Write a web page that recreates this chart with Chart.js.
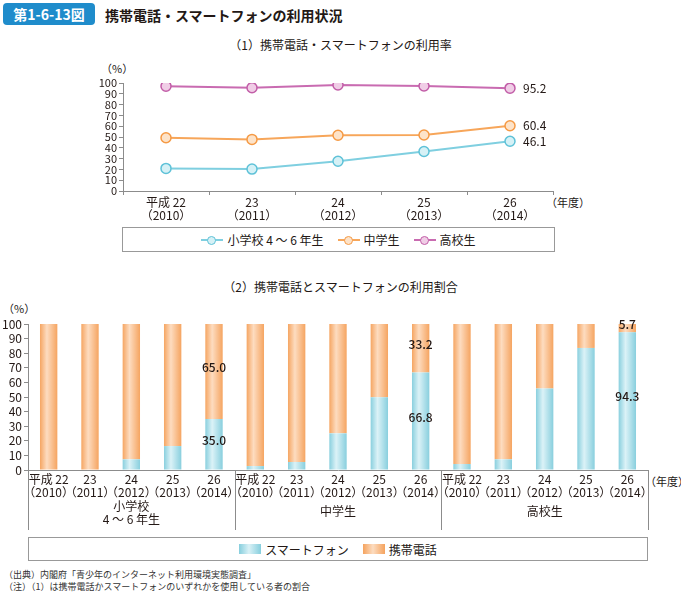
<!DOCTYPE html>
<html lang="ja">
<head>
<meta charset="utf-8">
<script src="https://cdn.jsdelivr.net/npm/chart.js@4"></script>
<style>
body{margin:0;width:681px;height:593px;position:relative;background:#fff;overflow:hidden;
  font-family:"Noto Sans CJK JP","Noto Sans",sans-serif;color:#231815}
.abs{position:absolute;white-space:nowrap}
#badge{left:3px;top:3px;width:92px;height:22px;border-radius:4px;background:#1f8ccb;color:#fff;
  font-size:14px;font-weight:bold;line-height:22px;text-align:center}
#title{left:105px;top:5px;font-size:14px;font-weight:bold;line-height:20px}
.sub{font-size:12px;line-height:16px;left:0;width:681px;text-align:center}
.small{font-size:11px;line-height:14px}
.legend{border:1px solid #999;display:flex;justify-content:center;align-items:center;font-size:12px;box-sizing:border-box}
.legend span.item{display:flex;align-items:center;margin:0 7px}
.ln{position:relative;width:22px;height:10px;margin-right:4px}
.ln i{position:absolute;left:0;right:0;top:4px;height:2px}
.ln b{position:absolute;left:6px;top:1px;width:7px;height:7px;border-radius:50%;border:1px solid;background:#fff}
.sq{width:22px;height:10px;margin-right:4px}
.note{left:4px;font-size:9px;line-height:12px;color:#333}
canvas{position:absolute}
</style>
</head>
<body>
<div id="badge" class="abs">第1-6-13図</div>
<div id="title" class="abs">携帯電話・スマートフォンの利用状況</div>
<div class="abs sub" style="top:37px">（1）携帯電話・スマートフォンの利用率</div>
<div class="abs small" style="left:101px;top:61px">（%）</div>
<div class="abs small" style="left:546px;top:195px">（年度）</div>
<canvas id="rate" width="520" height="165" style="left:80px;top:60px"></canvas>
<div class="abs legend" style="left:122px;top:227px;width:433px;height:25px">
  <span class="item"><span class="ln"><i style="background:#7fcfe0"></i><b style="border-color:#5fc2d8;background:#d6f1f6"></b></span>小学校 4 ～ 6 年生</span>
  <span class="item"><span class="ln"><i style="background:#f7a65a"></i><b style="border-color:#f59a45;background:#fde3c9"></b></span>中学生</span>
  <span class="item"><span class="ln"><i style="background:#c96bb1"></i><b style="border-color:#c25ea8;background:#f0cde6"></b></span>高校生</span>
</div>

<div class="abs sub" style="top:279px">（2）携帯電話とスマートフォンの利用割合</div>
<div class="abs small" style="left:3px;top:301px">（%）</div>
<div class="abs small" style="left:645px;top:474px">（年度）</div>
<canvas id="share" width="681" height="240" style="left:0;top:295px"></canvas>
<div class="abs legend" style="left:28px;top:537px;width:620px;height:24px">
  <span class="item"><span class="sq" style="background:linear-gradient(90deg,#86cedd,#d9f1f6 45%,#86cedd)"></span>スマートフォン</span>
  <span class="item"><span class="sq" style="background:linear-gradient(90deg,#f5a35e,#fcdcc0 45%,#f5a35e)"></span>携帯電話</span>
</div>
<div class="abs note" style="top:569px">（出典）内閣府「青少年のインターネット利用環境実態調査」</div>
<div class="abs note" style="top:581px">（注）（1）は携帯電話かスマートフォンのいずれかを使用している者の割合</div>

<script>
const years = [["平成 22", "（2010）"], ["23", "（2011）"], ["24", "（2012）"], ["25", "（2013）"], ["26", "（2014）"]];

// (1) 利用率
const rateElem = [20.9, 20.3, 27.5, 36.6, 46.1];
const rateJunior = [49.3, 47.8, 51.6, 51.9, 60.4];
const rateHigh = [97.1, 95.6, 98.1, 97.2, 95.2];

// (2) 利用割合
const groups = [["小学校", "4 ～ 6 年生"], ["中学生"], ["高校生"]];
const smartElem = [0, 0, 7.3, 16.4, 35.0];
const phoneElem = [100, 100, 92.7, 83.6, 65.0];
const smartJunior = [2.7, 5.5, 25.1, 49.8, 66.8];
const phoneJunior = [97.3, 94.5, 74.9, 50.2, 33.2];
const smartHigh = [4.1, 7.3, 55.9, 83.6, 94.3];
const phoneHigh = [95.9, 92.7, 44.1, 16.4, 5.7];

const FONT = '"Noto Sans CJK JP", "Noto Sans", sans-serif';
Chart.defaults.font.family = FONT;
Chart.defaults.color = "#231815";

const axisColor = "#8c8c8c";

// 最終年の値ラベル
const endLabels = {
  id: "endLabels",
  afterDatasetsDraw(chart) {
    const ctx = chart.ctx;
    ctx.save();
    ctx.font = "12px " + FONT;
    ctx.fillStyle = "#231815";
    ctx.textBaseline = "middle";
    chart.data.datasets.forEach((ds, i) => {
      const pts = chart.getDatasetMeta(i).data;
      const last = pts[pts.length - 1];
      ctx.fillText(ds.data[ds.data.length - 1].toFixed(1), last.x + 13, last.y);
    });
    ctx.restore();
  },
};

function lineSet(label, data, line, border, fill) {
  return {
    label, data,
    borderColor: line, borderWidth: 2,
    pointRadius: 5, pointBorderWidth: 1.5,
    pointBorderColor: border, pointBackgroundColor: fill,
    tension: 0,
  };
}

new Chart(document.getElementById("rate"), {
  type: "line",
  data: {
    labels: years,
    datasets: [
      lineSet("小学校 4 ～ 6 年生", rateElem, "#7fcfe0", "#5fc2d8", "#d6f1f6"),
      lineSet("中学生", rateJunior, "#f7a65a", "#f59a45", "#fde3c9"),
      lineSet("高校生", rateHigh, "#c96bb1", "#c25ea8", "#f0cde6"),
    ],
  },
  options: {
    responsive: false,
    animation: false,
    layout: { padding: { top: 23, right: 47 } },
    plugins: { legend: { display: false }, tooltip: { enabled: false } },
    scales: {
      x: {
        offset: true,
        grid: { offset: true, drawOnChartArea: false, tickLength: 4, color: axisColor },
        border: { color: axisColor },
        ticks: { font: { size: 12, lineHeight: 1.1 }, maxRotation: 0, padding: 1 },
        afterFit: (s) => { s.height = 34; },
      },
      y: {
        min: 0, max: 100,
        grid: { drawOnChartArea: false, tickLength: 4, color: axisColor },
        border: { color: axisColor },
        ticks: { stepSize: 10, autoSkip: false, font: { size: 11 }, padding: 2 },
        afterFit: (s) => { s.width = 43; },
      },
    },
  },
  plugins: [endLabels],
});

// (2) 積み上げ棒
const smartAll = [...smartElem, ...smartJunior, ...smartHigh];
const phoneAll = [...phoneElem, ...phoneJunior, ...phoneHigh];
const shareLabels = [...years, ...years, ...years];
const labelIdx = [4, 9, 14];

function barFill(edge, mid) {
  return (c) => {
    const sc = c.chart.scales && c.chart.scales.x;
    if (!sc || sc.width === undefined) return edge;
    const x = sc.getPixelForValue(c.dataIndex);
    const g = c.chart.ctx.createLinearGradient(x - 9, 0, x + 9, 0);
    g.addColorStop(0, edge);
    g.addColorStop(0.4, mid);
    g.addColorStop(1, edge);
    return g;
  };
}

const groupDeco = {
  id: "groupDeco",
  afterDraw(chart) {
    const ctx = chart.ctx;
    const a = chart.chartArea;
    const x = chart.scales.x;
    ctx.save();
    ctx.strokeStyle = axisColor;
    ctx.lineWidth = 1;
    [a.left, x.getPixelForValue(4.5), x.getPixelForValue(9.5), a.right].forEach((px) => {
      px = Math.round(px) + 0.5;
      ctx.beginPath();
      ctx.moveTo(px, a.bottom);
      ctx.lineTo(px, a.bottom + 60);
      ctx.stroke();
    });
    ctx.fillStyle = "#231815";
    ctx.font = "12px " + FONT;
    ctx.textAlign = "center";
    ctx.textBaseline = "middle";
    groups.forEach((g, i) => {
      const cx = x.getPixelForValue(i * 5 + 2);
      if (g.length === 2) {
        ctx.fillText(g[0], cx, a.bottom + 36);
        ctx.fillText(g[1], cx, a.bottom + 49);
      } else {
        ctx.fillText(g[0], cx, a.bottom + 41);
      }
    });
    // 値ラベル
    ctx.font = "500 12px " + FONT;
    chart.data.datasets.forEach((ds, di) => {
      const meta = chart.getDatasetMeta(di);
      labelIdx.forEach((i) => {
        const el = meta.data[i];
        ctx.fillText(ds.data[i].toFixed(1), el.x, (el.y + el.base) / 2 - 4);
      });
    });
    ctx.restore();
  },
};

new Chart(document.getElementById("share"), {
  type: "bar",
  data: {
    labels: shareLabels,
    datasets: [
      { label: "スマートフォン", data: smartAll, backgroundColor: barFill("#86cedd", "#dbf2f7") },
      { label: "携帯電話", data: phoneAll, backgroundColor: barFill("#f5a35e", "#fddcc0") },
    ],
  },
  options: {
    responsive: false,
    animation: false,
    layout: { padding: { top: 29, right: 33 } },
    datasets: { bar: { barPercentage: 0.42, categoryPercentage: 1, borderWidth: 0 } },
    plugins: { legend: { display: false }, tooltip: { enabled: false } },
    scales: {
      x: {
        stacked: true,
        grid: { display: false, drawTicks: false },
        border: { color: axisColor },
        ticks: { font: { size: 12, lineHeight: 1.1 }, maxRotation: 0, autoSkip: false, padding: 3 },
        afterFit: (s) => { s.height = 65; },
      },
      y: {
        stacked: true,
        min: 0, max: 100,
        grid: { drawOnChartArea: false, tickLength: 4, color: axisColor },
        border: { color: axisColor },
        ticks: { stepSize: 10, autoSkip: false, font: { size: 12 }, padding: 2 },
        afterFit: (s) => { s.width = 28; },
      },
    },
  },
  plugins: [groupDeco],
});
</script>
</body>
</html>
